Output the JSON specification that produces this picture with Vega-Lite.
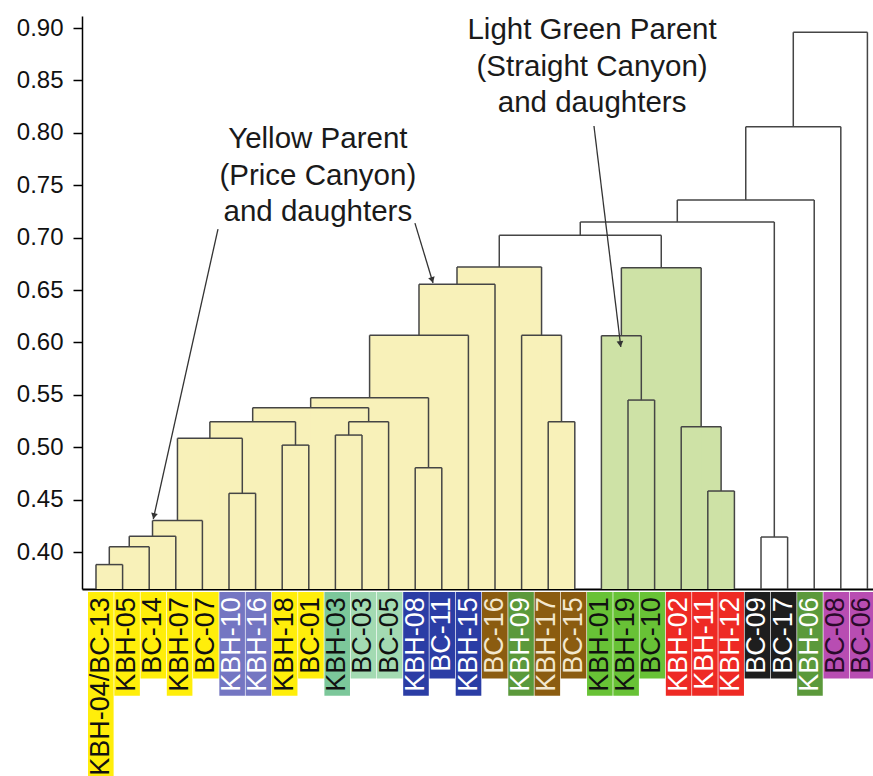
{
  "$schema": "https://vega.github.io/schema/vega-lite/v6.json",
  "background": "white",
  "padding": {"top": 15, "left": 0, "right": 0, "bottom": 0},
  "autosize": {"type": "pad"},
  "spacing": 2,
  "resolve": {"scale": {"fill": "independent", "color": "independent"}},
  "config": {"view": {"stroke": null}, "font": "Liberation Sans"},
  "datasets": {
    "merges": [
      {"node": "m1", "x1": 0, "x2": 1, "h": 0.388, "h1": 0, "h2": 0, "group": "yellow"},
      {"node": "m2", "x1": 0.5, "x2": 2, "h": 0.405, "h1": 0.388, "h2": 0, "group": "yellow"},
      {"node": "m3", "x1": 1.25, "x2": 3, "h": 0.415, "h1": 0.405, "h2": 0, "group": "yellow"},
      {"node": "m4", "x1": 2.125, "x2": 4, "h": 0.43, "h1": 0.415, "h2": 0, "group": "yellow"},
      {"node": "m5", "x1": 5, "x2": 6, "h": 0.456, "h1": 0, "h2": 0, "group": "yellow"},
      {"node": "m6", "x1": 3.0625, "x2": 5.5, "h": 0.5085, "h1": 0.43, "h2": 0.456, "group": "yellow"},
      {"node": "m7", "x1": 7, "x2": 8, "h": 0.502, "h1": 0, "h2": 0, "group": "yellow"},
      {"node": "m8", "x1": 4.28125, "x2": 7.5, "h": 0.5243, "h1": 0.5085, "h2": 0.502, "group": "yellow"},
      {"node": "m9", "x1": 9, "x2": 10, "h": 0.5116, "h1": 0, "h2": 0, "group": "yellow"},
      {"node": "m10", "x1": 9.5, "x2": 11, "h": 0.5243, "h1": 0.5116, "h2": 0, "group": "yellow"},
      {"node": "m11", "x1": 5.8906, "x2": 10.25, "h": 0.5377, "h1": 0.5243, "h2": 0.5243, "group": "yellow"},
      {"node": "m12", "x1": 12, "x2": 13, "h": 0.4804, "h1": 0, "h2": 0, "group": "yellow"},
      {"node": "m13", "x1": 8.0703, "x2": 12.5, "h": 0.5472, "h1": 0.5377, "h2": 0.4804, "group": "yellow"},
      {"node": "m14", "x1": 10.2852, "x2": 14, "h": 0.6068, "h1": 0.5472, "h2": 0, "group": "yellow"},
      {"node": "m15", "x1": 12.1426, "x2": 15, "h": 0.6554, "h1": 0.6068, "h2": 0, "group": "yellow"},
      {"node": "m16", "x1": 17, "x2": 18, "h": 0.5243, "h1": 0, "h2": 0, "group": "yellow"},
      {"node": "m17", "x1": 16, "x2": 17.5, "h": 0.6068, "h1": 0, "h2": 0.5243, "group": "yellow"},
      {"node": "m18", "x1": 13.5713, "x2": 16.75, "h": 0.672, "h1": 0.6554, "h2": 0.6068, "group": "yellow"},
      {"node": "g1", "x1": 20, "x2": 21, "h": 0.545, "h1": 0, "h2": 0, "group": "green"},
      {"node": "g2", "x1": 19, "x2": 20.5, "h": 0.6064, "h1": 0, "h2": 0.545, "group": "green"},
      {"node": "g3", "x1": 23, "x2": 24, "h": 0.4582, "h1": 0, "h2": 0, "group": "green"},
      {"node": "g4", "x1": 22, "x2": 23.5, "h": 0.5196, "h1": 0, "h2": 0.4582, "group": "green"},
      {"node": "g5", "x1": 19.75, "x2": 22.75, "h": 0.6713, "h1": 0.6064, "h2": 0.5196, "group": "green"},
      {"node": "w1", "x1": 15.1606, "x2": 21.25, "h": 0.7022, "h1": 0.672, "h2": 0.6713, "group": "none"},
      {"node": "w2", "x1": 25, "x2": 26, "h": 0.4143, "h1": 0, "h2": 0, "group": "none"},
      {"node": "w3", "x1": 18.2053, "x2": 25.5, "h": 0.7149, "h1": 0.7022, "h2": 0.4143, "group": "none"},
      {"node": "w4", "x1": 21.8527, "x2": 27, "h": 0.7359, "h1": 0.7149, "h2": 0, "group": "none"},
      {"node": "w5", "x1": 24.4263, "x2": 28, "h": 0.8058, "h1": 0.7359, "h2": 0, "group": "none"},
      {"node": "w6", "x1": 26.2132, "x2": 29, "h": 0.896, "h1": 0.8058, "h2": 0, "group": "none"}
    ],
    "leaves": [
      {"index": 0, "label": "KBH-04/BC-13", "group": "yellow"},
      {"index": 1, "label": "KBH-05", "group": "yellow"},
      {"index": 2, "label": "BC-14", "group": "yellow"},
      {"index": 3, "label": "KBH-07", "group": "yellow"},
      {"index": 4, "label": "BC-07", "group": "yellow"},
      {"index": 5, "label": "KBH-10", "group": "violet"},
      {"index": 6, "label": "KBH-16", "group": "violet"},
      {"index": 7, "label": "KBH-18", "group": "yellow"},
      {"index": 8, "label": "BC-01", "group": "yellow"},
      {"index": 9, "label": "KBH-03", "group": "seagreen"},
      {"index": 10, "label": "BC-03", "group": "mint"},
      {"index": 11, "label": "BC-05", "group": "mint"},
      {"index": 12, "label": "KBH-08", "group": "blue"},
      {"index": 13, "label": "BC-11", "group": "blue"},
      {"index": 14, "label": "KBH-15", "group": "blue"},
      {"index": 15, "label": "BC-16", "group": "brown"},
      {"index": 16, "label": "KBH-09", "group": "darkgreen"},
      {"index": 17, "label": "KBH-17", "group": "brown"},
      {"index": 18, "label": "BC-15", "group": "brown"},
      {"index": 19, "label": "KBH-01", "group": "lightgreen"},
      {"index": 20, "label": "KBH-19", "group": "lightgreen"},
      {"index": 21, "label": "BC-10", "group": "lightgreen"},
      {"index": 22, "label": "KBH-02", "group": "red"},
      {"index": 23, "label": "KBH-11", "group": "red"},
      {"index": 24, "label": "KBH-12", "group": "red"},
      {"index": 25, "label": "BC-09", "group": "black"},
      {"index": 26, "label": "BC-17", "group": "black"},
      {"index": 27, "label": "KBH-06", "group": "darkgreen"},
      {"index": 28, "label": "BC-08", "group": "magenta"},
      {"index": 29, "label": "BC-06", "group": "magenta"}
    ],
    "arrows": [
      {"name": "yellow", "x": 4.586, "y": 0.7082, "x2": 2.154, "y2": 0.4315},
      {"name": "yellow2", "x": 11.99, "y": 0.7139, "x2": 12.67, "y2": 0.6567},
      {"name": "green", "x": 18.72, "y": 0.8065, "x2": 19.73, "y2": 0.5956}
    ]
  },
  "vconcat": [
    {
      "width": 791,
      "height": 573,
      "layer": [
        {
          "data": {"name": "merges"},
          "transform": [{"filter": "datum.group !== 'none'"}],
          "mark": {"type": "rect"},
          "encoding": {
            "x": {"field": "x1", "type": "quantitative",
              "scale": {"domain": [-0.526, 29.21], "nice": false, "zero": false},
              "axis": {"domain": true, "domainColor": "#000000", "domainWidth": 2, "ticks": false, "labels": false, "grid": false, "title": null, "minExtent": 0, "maxExtent": 0}},
            "x2": {"field": "x2"},
            "y": {"field": "h", "type": "quantitative",
              "scale": {"domain": [0.3647, 0.9115], "nice": false, "zero": false, "clamp": true},
              "axis": {"values": [0.4, 0.45, 0.5, 0.55, 0.6, 0.65, 0.7, 0.75, 0.8, 0.85, 0.9], "format": ".2f", "grid": false, "title": null,
                "domainColor": "#000000", "domainWidth": 1.5, "tickColor": "#000000", "tickWidth": 1.5, "tickSize": 9,
                "labelFontSize": 24, "labelFont": "Liberation Sans", "labelColor": "#111111", "labelPadding": 10,
                "minExtent": 82, "maxExtent": 82}},
            "y2": {"datum": 0},
            "fill": {"field": "group", "type": "nominal",
              "scale": {"domain": ["yellow", "green"], "range": ["#F8F1B9", "#CEE2A6"]}, "legend": null}
          }
        },
        {
          "data": {"name": "merges"},
          "mark": {"type": "rule", "color": "#454545", "strokeWidth": 1.5},
          "encoding": {
            "x": {"field": "x1", "type": "quantitative"},
            "x2": {"field": "x2"},
            "y": {"field": "h", "type": "quantitative"}
          }
        },
        {
          "data": {"name": "merges"},
          "mark": {"type": "rule", "color": "#454545", "strokeWidth": 1.5},
          "encoding": {
            "x": {"field": "x1", "type": "quantitative"},
            "y": {"field": "h", "type": "quantitative"},
            "y2": {"field": "h1"}
          }
        },
        {
          "data": {"name": "merges"},
          "mark": {"type": "rule", "color": "#454545", "strokeWidth": 1.5},
          "encoding": {
            "x": {"field": "x2", "type": "quantitative"},
            "y": {"field": "h", "type": "quantitative"},
            "y2": {"field": "h2"}
          }
        },
        {
          "data": {"name": "arrows"},
          "mark": {"type": "rule", "color": "#333333", "strokeWidth": 1.3},
          "encoding": {
            "x": {"field": "x", "type": "quantitative"},
            "y": {"field": "y", "type": "quantitative"},
            "x2": {"field": "x2"},
            "y2": {"field": "y2"}
          }
        },
        {
          "data": {"values": [{}]},
          "mark": {"type": "point", "shape": "triangle-up", "filled": true, "size": 45, "angle": 192.3, "color": "#333333", "opacity": 1},
          "encoding": {"x": {"datum": 2.177}, "y": {"datum": 0.4343}}
        },
        {
          "data": {"values": [{}]},
          "mark": {"type": "point", "shape": "triangle-up", "filled": true, "size": 45, "angle": 163.3, "color": "#333333", "opacity": 1},
          "encoding": {"x": {"datum": 12.64}, "y": {"datum": 0.6595}}
        },
        {
          "data": {"values": [{}]},
          "mark": {"type": "point", "shape": "triangle-up", "filled": true, "size": 45, "angle": 173.1, "color": "#333333", "opacity": 1},
          "encoding": {"x": {"datum": 19.71}, "y": {"datum": 0.5985}}
        },
        {
          "data": {"values": [{}]},
          "mark": {"type": "text", "text": ["Yellow Parent", "(Price Canyon)", "and daughters"], "font": "Liberation Sans", "fontSize": 29.5, "lineHeight": 36.5, "align": "center", "baseline": "alphabetic", "color": "#1a1a1a"},
          "encoding": {"x": {"datum": 8.34}, "y": {"datum": 0.7852}}
        },
        {
          "data": {"values": [{}]},
          "mark": {"type": "text", "text": ["Light Green Parent", "(Straight Canyon)", "and daughters"], "font": "Liberation Sans", "fontSize": 29.5, "lineHeight": 36.5, "align": "center", "baseline": "alphabetic", "color": "#1a1a1a"},
          "encoding": {"x": {"datum": 18.65}, "y": {"datum": 0.8892}}
        }
      ]
    },
    {
      "width": 791,
      "height": 186,
      "data": {"name": "leaves"},
      "transform": [{"calculate": "length(datum.label)", "as": "nchar"}],
      "layer": [
        {
          "mark": {"type": "bar", "width": 25.6, "clip": true},
          "encoding": {
            "x": {"field": "index", "type": "quantitative", "scale": {"domain": [-0.526, 29.21], "nice": false, "zero": false}, "axis": null},
            "y": {"field": "nchar", "type": "quantitative", "scale": {"domain": [0, 10.75], "reverse": true, "nice": false, "zero": false}, "axis": null},
            "y2": {"datum": 0},
            "fill": {"field": "group", "type": "nominal", "legend": null,
              "scale": {
                "domain": ["yellow", "violet", "seagreen", "mint", "blue", "brown", "darkgreen", "lightgreen", "red", "black", "magenta"],
                "range": ["#FFEE0A", "#7476C2", "#7CC79A", "#A3DAB2", "#2B3DA5", "#8B5C10", "#5B993B", "#68C236", "#EE2A24", "#1E1E1E", "#B84DB2"]}}
          }
        },
        {
          "mark": {"type": "text", "angle": 270, "align": "right", "baseline": "middle", "font": "Liberation Sans", "fontSize": 27, "clip": true},
          "encoding": {
            "x": {"field": "index", "type": "quantitative"},
            "y": {"datum": 0.3},
            "text": {"field": "label"},
            "color": {"field": "group", "type": "nominal", "legend": null,
              "scale": {
                "domain": ["yellow", "violet", "seagreen", "mint", "blue", "brown", "darkgreen", "lightgreen", "red", "black", "magenta"],
                "range": ["#111111", "#FFFFFF", "#111111", "#111111", "#FFFFFF", "#F3E8CF", "#FFFFFF", "#111111", "#FFFFFF", "#FFFFFF", "#2A0A2A"]}}
          }
        }
      ]
    }
  ]
}
